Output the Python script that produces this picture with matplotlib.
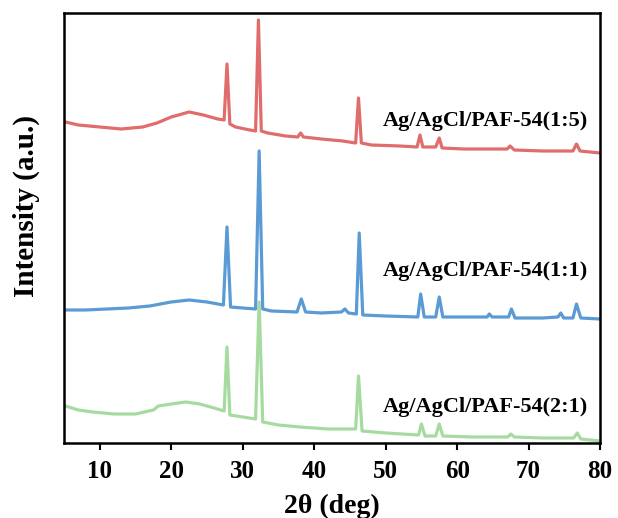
"""XRD patterns of the Ag/AgCl/PAF-54 composites, stacked."""

import matplotlib
matplotlib.use('Agg')
from matplotlib import pyplot

# 2-theta / intensity (a.u., stacked as drawn).
theta_15 = [5.2, 7, 10, 13, 16, 18, 20, 22.5, 24.5, 26.5, 27.4, 27.8, 28.2,
            29, 31, 31.8, 32.2, 32.6, 33.5, 36, 37.7, 38.1, 38.5, 41, 44,
            45.8, 46.2, 46.6, 48, 52, 54.4, 54.8, 55.2, 57, 57.5, 57.9, 61,
            64.4, 67.0, 67.4, 68, 72, 76.2, 76.7, 77.2, 80]
int_15 = [321, 318, 316, 314, 316, 320, 326, 331, 328, 324, 323, 379, 319,
          316, 313, 312, 423, 312, 310, 307, 306, 310, 306, 304, 302,
          300, 345, 300, 298, 297, 296, 308, 296, 296, 305, 295, 294,
          294, 294, 297, 293, 292, 292, 299, 292, 290]

theta_11 = [5.2, 8, 11, 14, 17, 20, 22.5, 25, 27.3, 27.8, 28.3, 30, 31.8,
            32.3, 32.8, 34, 37.6, 38.2, 38.8, 41, 43.8, 44.3, 44.8, 45.9,
            46.3, 46.8, 50, 54.5, 54.9, 55.4, 57, 57.5, 58, 62, 64.2, 64.5,
            64.9, 67.2, 67.6, 68.1, 72, 74.1, 74.5, 74.9, 76.2, 76.7, 77.3,
            80]
int_11 = [133, 133, 134, 135, 137, 141, 143, 141, 138, 216, 136, 135, 134,
          292, 134, 132, 131, 144, 131, 130, 131, 134, 130, 129,
          210, 128, 127, 126, 149, 126, 126, 146, 126, 126, 126, 129,
          126, 126, 134, 125, 125, 126, 130, 125, 125, 139, 125,
          124]

theta_21 = [5.2, 7, 9, 12, 15, 17.5, 18.2, 20, 22, 24, 26, 27.4, 27.8, 28.2,
            30, 31.8, 32.3, 32.8, 35, 38, 42, 45.8, 46.2, 46.7, 50, 54.6,
            55.0, 55.5, 57, 57.5, 58, 62, 67.1, 67.5, 68, 72, 76.3, 76.8,
            77.3, 80]
int_21 = [37, 33, 31, 29, 29, 33, 37, 39, 41, 39, 35, 32, 96, 28,
          26, 24, 141, 21, 18, 16, 14, 14, 67, 12, 10, 8,
          19, 7, 7, 19, 7, 6, 6, 9, 6, 5, 5, 10,
          4, 2]

labels = ['Ag/AgCl/PAF-54(1:5)', 'Ag/AgCl/PAF-54(1:1)', 'Ag/AgCl/PAF-54(2:1)']
label_y = [322, 172, 36]
xticks = [10, 20, 30, 40, 50, 60, 70, 80]

pyplot.rc('font', family='Liberation Serif', weight='bold', size=18)
fig = pyplot.figure(figsize=(6.18, 5.18), dpi=100)
ax = fig.add_axes([0.1036, 0.1448, 0.8674, 0.8301])

ax.plot(theta_21, int_21, color='#a6dba0', linewidth=2.3)
ax.plot(theta_11, int_11, color='#5b9bd5', linewidth=2.3)
ax.plot(theta_15, int_15, color='#e06c6c', linewidth=2.3)

for text, y in zip(labels, label_y):
    ax.text(78.3, y, text, ha='right', va='center', fontsize=16,
            fontweight='bold')

ax.set_xlim(5, 80)
ax.set_ylim(0, 430)
ax.set_xticks(xticks)
ax.set_yticks([])
ax.tick_params(axis='x', direction='out', length=5, width=1.5, pad=7)
for spine in ax.spines.values():
    spine.set_linewidth(1.8)
ax.set_xlabel('2θ (deg)', fontsize=20, fontweight='bold')
ax.xaxis.set_label_coords(0.5, -0.118)
ax.set_ylabel('Intensity (a.u.)', fontsize=21, fontweight='bold')
ax.yaxis.set_label_coords(-0.045, 0.55)

fig.savefig('out.png', dpi=100)
